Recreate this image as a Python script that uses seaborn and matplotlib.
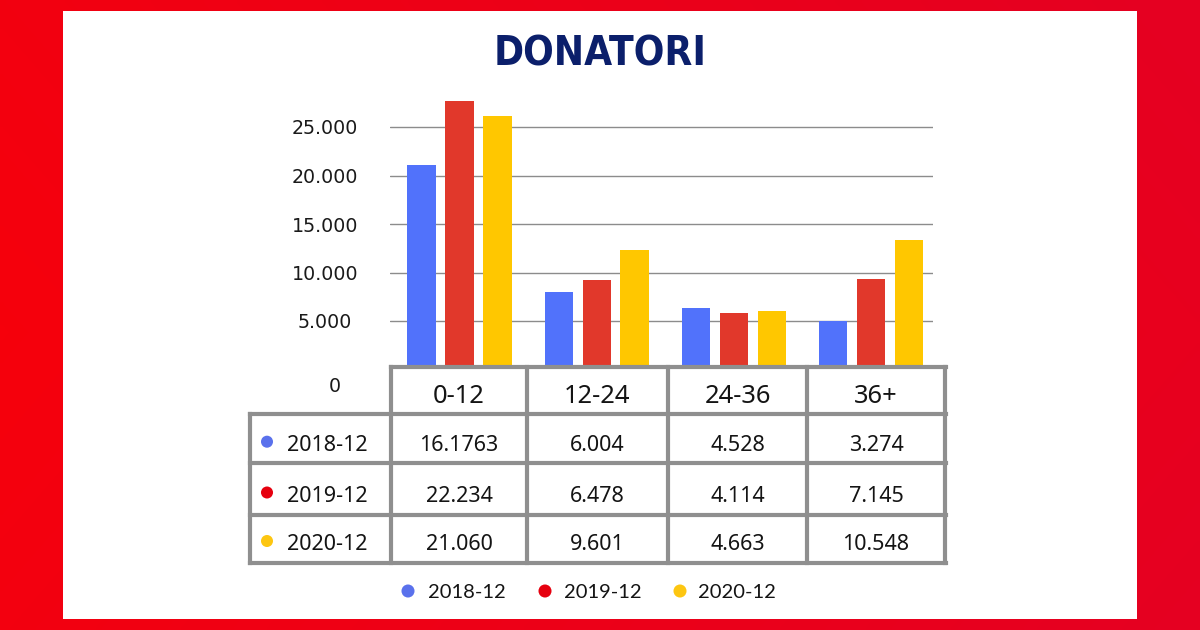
import numpy as np
import pandas as pd
import matplotlib
matplotlib.use('Agg')
import matplotlib.pyplot as plt
import seaborn as sns
from matplotlib.patches import Rectangle

# ---------------- data ----------------
categories = ['0-12', '12-24', '24-36', '36+']
series = ['2018-12', '2019-12', '2020-12']
bars_2018 = [21050, 7960, 6370, 4970]
bars_2019 = [27680, 9230, 5860, 9300]
bars_2020 = [26130, 12290, 6060, 13350]
table_2018 = ['16.1763', '6.004', '4.528', '3.274']
table_2019 = ['22.234', '6.478', '4.114', '7.145']
table_2020 = ['21.060', '9.601', '4.663', '10.548']
y_ticks = [5000, 10000, 15000, 20000, 25000]
y_tick_labels = ['5.000', '10.000', '15.000', '20.000', '25.000']
zero_label = '0'
title = 'DONATORI'

bar_colors = ['#5172fb', '#e1382b', '#ffc700']
dot_colors = ['#5a71ec', '#e6000f', '#fdc611']

df = pd.DataFrame({
    'fascia': categories * 3,
    'valore': bars_2018 + bars_2019 + bars_2020,
    'anno': [series[0]] * 4 + [series[1]] * 4 + [series[2]] * 4,
})
table_rows = [table_2018, table_2019, table_2020]

sns.set_theme(style='white')
plt.rcParams['font.family'] = ['DejaVu Sans']

W, H = 1200, 630
fig = plt.figure(figsize=(12, 6.3), dpi=100)

# ---------------- background ----------------
bg = fig.add_axes([0, 0, 1, 1], zorder=0)
bg.set_xlim(0, W); bg.set_ylim(H, 0); bg.axis('off')
yy, xx = np.mgrid[0:H:5, 0:W:5]
t = np.clip(0.35 + 0.55 * xx / W + 0.25 * np.abs(yy - 330) / H, 0, 1)
c1 = np.array([1.0, 0.0, 0.0])
c2 = np.array([0.90, 0.0, 0.13])
img = (1 - t)[..., None] * c1 + t[..., None] * c2
bg.imshow(img, extent=(0, W, H, 0), aspect='auto', interpolation='bilinear')
bg.add_patch(Rectangle((63, 11), 1137 - 63, 619 - 11, facecolor='white', edgecolor='none'))

# ---------------- bar chart ----------------
y0_px, ymax = 369.5, 28500
px_per_unit = 48.5 / 5000
ax_h = ymax * px_per_unit
ax = fig.add_axes([390 / W, (H - y0_px) / H, 543 / W, ax_h / H], zorder=1)
ax.set_facecolor('none')
sns.barplot(data=df, x='fascia', y='valore', hue='anno', order=categories,
            hue_order=series, palette=bar_colors, saturation=1,
            width=0.83, gap=0.25, legend=False, ax=ax, zorder=2,
            linewidth=0, edgecolor='none')
ax.set_xlim(-0.508, 3.453)
ax.set_ylim(0, ymax)
for s in ax.spines.values():
    s.set_visible(False)
ax.set_xticks([])
ax.set_xlabel(''); ax.set_ylabel('')
ax.set_yticks(y_ticks, labels=y_tick_labels)
ax.tick_params(axis='y', length=0, pad=46.8, labelsize=13.7, labelcolor='#1a1a1a')
for lbl in ax.get_yticklabels():
    lbl.set_horizontalalignment('center')
ax.yaxis.grid(True, color='#8c8c8c', lw=1)
ax.set_axisbelow(True)

# ---------------- table & texts ----------------
fg = fig.add_axes([0, 0, 1, 1], zorder=3)
fg.set_xlim(0, W); fg.set_ylim(H, 0); fg.axis('off')
fg.patch.set_alpha(0)

grid_c = '#8f8f8f'
lw = 3.0
fg.add_patch(Rectangle((391, 367), 945 - 391, 414 - 367, facecolor='white', edgecolor='none'))
fg.add_patch(Rectangle((250, 414), 945 - 250, 563 - 414, facecolor='white', edgecolor='none'))
fg.plot([391, 946], [367, 367], color=grid_c, lw=lw, solid_capstyle='projecting')
for y in [414, 463, 515, 563]:
    fg.plot([250, 946], [y, y], color=grid_c, lw=lw, solid_capstyle='projecting')
fg.plot([250, 250], [414, 563], color=grid_c, lw=lw, solid_capstyle='projecting')
for x in [391, 527, 668, 807, 945]:
    fg.plot([x, x], [367, 563], color=grid_c, lw=lw, solid_capstyle='projecting')

col_centers = [459, 597.5, 737.5, 876]
tfont = ['Noto Sans', 'DejaVu Sans']
for cx, cat in zip(col_centers, categories):
    fg.text(cx, 403, cat, ha='center', va='baseline', fontsize=18.4,
            family=tfont, color='#141414')

row_base = [450.7, 501.5, 550]
for r, (base, name, vals) in enumerate(zip(row_base, series, table_rows)):
    fg.scatter([267], [base - 9], s=75, color=dot_colors[r], edgecolor='none')
    fg.text(287, base, name, ha='left', va='baseline', fontsize=15.5,
            family=tfont, color='#141414')
    for cx, v in zip(col_centers, vals):
        fg.text(cx, base, v, ha='center', va='baseline', fontsize=15.5,
                family=tfont, color='#141414')

fg.text(335, 391.7, zero_label, ha='center', va='baseline', fontsize=13.7,
        color='#1a1a1a')

# legend
leg_dot_x = [408, 545, 680]
leg_txt_x = [428, 564, 698]
for i, name in enumerate(series):
    fg.scatter([leg_dot_x[i]], [591], s=88, color=dot_colors[i], edgecolor='none')
    fg.text(leg_txt_x[i], 598, name, ha='left', va='baseline', fontsize=14.5,
            family=['Lato', 'DejaVu Sans'], color='#141414')

# title
fg.text(600, 66, title, ha='center', va='baseline', fontsize=29,
        fontweight='bold', family=['DejaVu Sans'], fontstretch='condensed',
        color='#0b1f6b')

fig.savefig('out.png', dpi=100)
